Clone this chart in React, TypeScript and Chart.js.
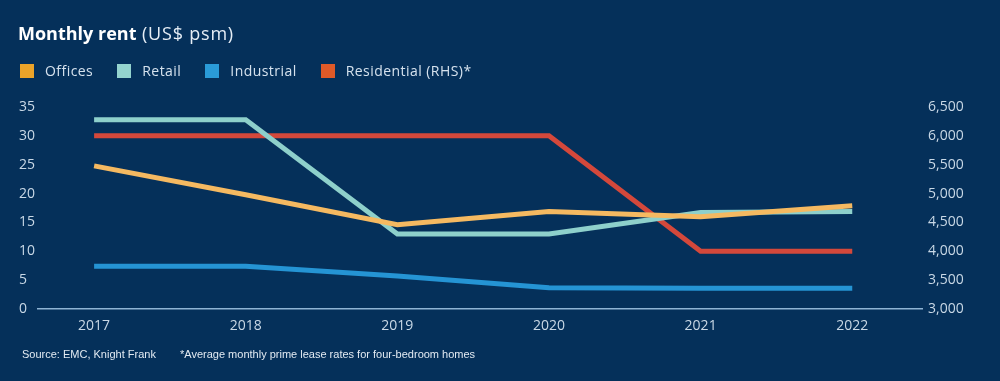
import React, { useEffect, useRef } from "react";
import { Chart, registerables } from "chart.js";

Chart.register(...registerables);

const years = [2017, 2018, 2019, 2020, 2021, 2022];
const offices = [24.8, 19.8, 14.6, 16.9, 16.0, 17.9];
const retail = [32.8, 32.8, 13.0, 13.0, 16.7, 16.9];
const industrial = [7.4, 7.4, 5.7, 3.7, 3.6, 3.6];
const residential = [6000, 6000, 6000, 6000, 4000, 4000];

const leftTicks = [0, 5, 10, 15, 20, 25, 30, 35];
const rightTicks = [3000, 3500, 4000, 4500, 5000, 5500, 6000, 6500];

const seriesNames = ["Offices", "Retail", "Industrial", "Residential (RHS)*"];
const lineColors = ["#F5B961", "#8ED0CB", "#2594D4", "#D4483B"];
const legendColors = ["#EBA329", "#94D3CE", "#2A9BD8", "#E05A28"];

const BG = "#05305A";
const TICK = "#C9D8E6";

export default function App() {
  const ref = useRef<HTMLCanvasElement | null>(null);

  useEffect(() => {
    document.body.style.margin = "0";
    document.body.style.background = BG;
    const canvas = ref.current;
    if (!canvas) return;
    const toPts = (vals: number[]) => vals.map((v, i) => ({ x: years[i], y: v }));
    const all = [offices, retail, industrial, residential];
    const chart = new Chart(canvas, {
      type: "line",
      data: {
        datasets: all.map((vals, i) => ({
          label: seriesNames[i],
          data: toPts(vals),
          borderColor: lineColors[i],
          backgroundColor: lineColors[i],
          borderWidth: 5,
          pointRadius: 0,
          tension: 0,
          yAxisID: i === 3 ? "y1" : "y",
        })),
      },
      options: {
        responsive: false,
        animation: false,
        devicePixelRatio: 1,
        layout: { padding: { left: 19, right: 0, top: 107, bottom: 42 } },
        plugins: {
          legend: { display: false },
          title: { display: false },
          tooltip: { enabled: false },
        },
        scales: {
          x: {
            type: "linear",
            min: 2016.63,
            max: 2022.46,
            afterBuildTicks: (s: any) => {
              s.ticks = years.map((v) => ({ value: v }));
            },
            afterFit: (s: any) => {
              s.height = 30;
            },
            grid: { display: false, drawTicks: false },
            border: { display: true, color: "#8FB4D4", width: 1.5 },
            ticks: {
              color: TICK,
              font: { family: "'Open Sans', sans-serif", size: 14 },
              padding: 9,
              callback: (v: any) => String(v),
            },
          },
          y: {
            position: "left",
            min: 0,
            max: 35,
            afterBuildTicks: (s: any) => {
              s.ticks = leftTicks.map((v) => ({ value: v }));
            },
            afterFit: (s: any) => {
              s.width = 19;
            },
            grid: { display: false, drawTicks: false },
            border: { display: false },
            ticks: {
              color: TICK,
              crossAlign: "far",
              padding: 0,
              font: { family: "'Open Sans', sans-serif", size: 14 },
              callback: (v: any) => String(v),
            },
          },
          y1: {
            position: "right",
            min: 3000,
            max: 6500,
            afterBuildTicks: (s: any) => {
              s.ticks = rightTicks.map((v) => ({ value: v }));
            },
            afterFit: (s: any) => {
              s.width = 78;
            },
            grid: { display: false, drawTicks: false },
            border: { display: false },
            ticks: {
              color: TICK,
              crossAlign: "near",
              padding: 6,
              font: { family: "'Open Sans', sans-serif", size: 14 },
              callback: (v: any) => Number(v).toLocaleString("en-US"),
            },
          },
        },
      },
    });
    return () => chart.destroy();
  }, []);

  return (
    <div
      style={{
        position: "relative",
        width: 1000,
        height: 381,
        background: BG,
        overflow: "hidden",
        fontFamily: "'Open Sans', sans-serif",
      }}
    >
      <canvas
        ref={ref}
        width={1000}
        height={381}
        style={{ position: "absolute", left: 0, top: 0, width: 1000, height: 381 }}
      />
      <div
        style={{
          position: "absolute",
          left: 18,
          top: 20,
          color: "#FFFFFF",
          fontSize: 18,
          lineHeight: "26px",
          whiteSpace: "nowrap",
        }}
      >
        <span style={{ fontWeight: 700 }}>Monthly rent</span>
        <span style={{ fontWeight: 400, color: "#E6EEF6", letterSpacing: 0.8 }}> (US$ psm)</span>
      </div>
      <div
        style={{
          position: "absolute",
          left: 20,
          top: 61,
          display: "flex",
          alignItems: "center",
          color: "#D6E2EE",
          fontSize: 14,
          lineHeight: "20px",
          whiteSpace: "nowrap",
          letterSpacing: 0.45,
        }}
      >
        {seriesNames.map((n, i) => (
          <div key={n} style={{ display: "flex", alignItems: "center", marginRight: 24 }}>
            <span
              style={{
                display: "inline-block",
                width: 14,
                height: 14,
                background: legendColors[i],
                marginRight: 11,
              }}
            />
            <span>{n}</span>
          </div>
        ))}
      </div>
      <div
        style={{
          position: "absolute",
          left: 22,
          top: 347,
          color: "#E2EAF2",
          fontSize: 11,
          lineHeight: "14px",
          fontFamily: "'Liberation Sans', Arial, sans-serif",
          whiteSpace: "nowrap",
        }}
      >
        <span>Source: EMC, Knight Frank</span>
        <span style={{ position: "absolute", left: 158 }}>
          *Average monthly prime lease rates for four-bedroom homes
        </span>
      </div>
    </div>
  );
}
